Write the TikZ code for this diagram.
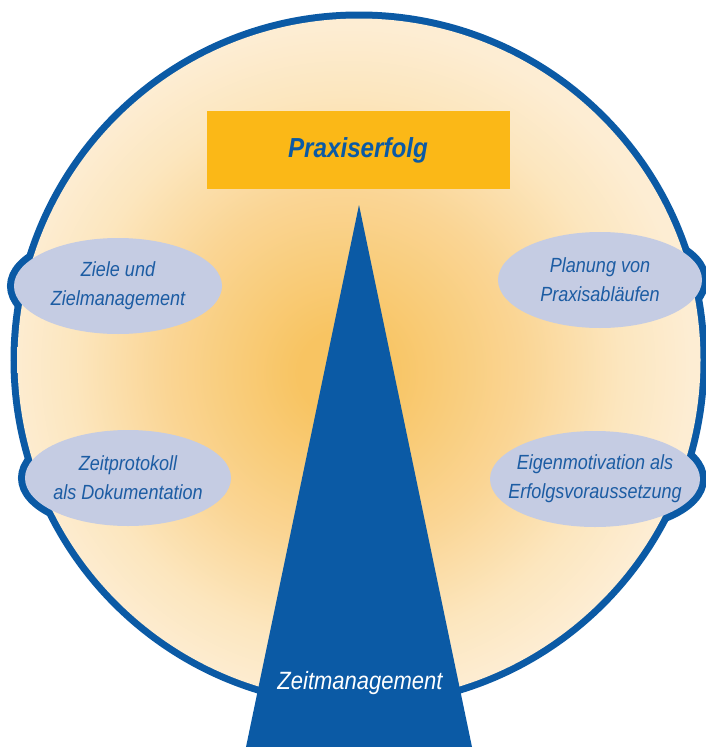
\documentclass[tikz,border=0pt]{standalone}
\usepackage{fontspec}
\newfontfamily\labelfont[FakeStretch=0.88]{Liberation Sans}

\definecolor{dunkelblau}{HTML}{0B5AA5}
\definecolor{schriftblau}{HTML}{1C5CA3}
\definecolor{blasenblau}{HTML}{C5CCE3}
\definecolor{goldgelb}{HTML}{FBB817}
\definecolor{glutkern}{HTML}{F8C462}
\definecolor{glutmitte}{HTML}{FAD594}
\definecolor{glutaussen}{HTML}{FCE6BE}
\definecolor{glutrand}{HTML}{FDEDD3}

\pgfdeclarelayer{hinten}
\pgfsetlayers{hinten,main}
\pgfdeclareradialshading{glut}{\pgfpoint{-1.5bp}{-1bp}}{color(0bp)=(glutkern); color(3bp)=(glutkern); color(13bp)=(glutmitte); color(20bp)=(glutaussen); color(25bp)=(glutrand); color(50bp)=(glutrand)}

\begin{document}
\begin{tikzpicture}[x=1pt,y=-1pt,
  blase/.style={align=center, text=schriftblau, inner sep=0pt,
    font=\labelfont\itshape\fontsize{20.5}{29}\selectfont},
  rand/.style={draw=dunkelblau, line width=14pt}]
  \useasboundingbox (0,0) rectangle (706,747);
  \coordinate (mitte) at (359,360);
  % Texte der Blasen
  \node[blase] (ziele) at (118,286) {Ziele und\\Zielmanagement};
  \node[blase] (planung) at (600,280) {Planung von\\Praxisabläufen};
  \node[blase] (protokoll) at (128,478) {Zeitprotokoll\\als Dokumentation};
  \node[blase] (motivation) at (595,479) {Eigenmotivation als\\Erfolgsvoraussetzung};
  % Scheibe, Blasen und ihr gemeinsamer Rand
  \begin{pgfonlayer}{hinten}
    \draw[rand] (mitte) circle (341.5);
    \foreach \b/\r in {ziele/104,planung/102,protokoll/103,motivation/105}
      \draw[rand] (\b.center) ellipse [x radius=\r, y radius=48];
    \shade[shading=glut] (mitte) circle (341.5);
    \foreach \b/\r in {ziele/104,planung/102,protokoll/103,motivation/105}
      \fill[blasenblau] (\b.center) ellipse [x radius=\r, y radius=48];
  \end{pgfonlayer}
  % Ziel oben
  \node[fill=goldgelb, minimum width=303pt, minimum height=78pt, text=dunkelblau,
    font=\labelfont\bfseries\itshape\fontsize{27.5}{30}\selectfont] (erfolg) at (358,150) {Praxiserfolg};
  % Keil
  \coordinate (spitze) at (359,205);
  \fill[dunkelblau] (spitze) -- (472,747) -- (246,747) -- cycle;
  \node[text=white, font=\labelfont\itshape\fontsize{25}{28}\selectfont] (zeit) at (360,683) {Zeitmanagement};
\end{tikzpicture}
\end{document}
